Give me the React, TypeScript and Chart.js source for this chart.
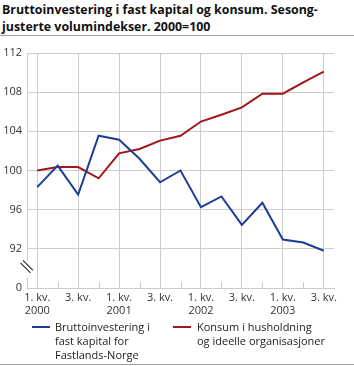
import React, { useEffect, useRef } from "react";
import { Chart, registerables } from "chart.js";

Chart.register(...registerables);

const titleLines = ["Bruttoinvestering i fast kapital og konsum. Sesong-", "justerte volumindekser. 2000=100"];
const categories: (string | string[])[] = [
  ["1. kv.", "2000"], "", "3. kv.", "",
  ["1. kv.", "2001"], "", "3. kv.", "",
  ["1. kv.", "2002"], "", "3. kv.", "",
  ["1. kv.", "2003"], "", "3. kv.",
];
const investering = [98.3, 100.5, 97.55, 103.55, 103.15, 101.2, 98.8, 100.0, 96.25, 97.35, 94.45, 96.7, 92.95, 92.65, 91.8];
const konsum = [100.0, 100.35, 100.35, 99.2, 101.75, 102.2, 103.05, 103.55, 105.0, 105.7, 106.45, 107.85, 107.85, 109.0, 110.1];
const yTicks = [88, 92, 96, 100, 104, 108, 112];
const yTickLabels = ["0", "92", "96", "100", "104", "108", "112"];
const seriesNames = [
  ["Bruttoinvestering i", "fast kapital for", "Fastlands-Norge"],
  ["Konsum i husholdning", "og ideelle organisasjoner"],
];
const BLUE = "#1f3d98";
const RED = "#a3151b";
const FONT = "'Open Sans', sans-serif";

const extrasPlugin = {
  id: "extras",
  afterDraw(chart: any) {
    const ctx = chart.ctx;
    const x = chart.scales.x;
    const y = chart.scales.y;
    const bottom = chart.chartArea.bottom;
    ctx.save();
    ctx.strokeStyle = "#cccccc";
    ctx.lineWidth = 1;
    for (let i = 1; i < categories.length; i += 2) {
      const px = Math.round(x.getPixelForValue(i)) + 0.5;
      ctx.beginPath();
      ctx.moveTo(px, bottom);
      ctx.lineTo(px, bottom - 6);
      ctx.stroke();
    }
    const left = chart.chartArea.left;
    const yb = (y.getPixelForValue(88) + y.getPixelForValue(92)) / 2 + 1;
    ctx.fillStyle = "#ffffff";
    ctx.fillRect(left - 1, yb - 8, 3, 16);
    ctx.strokeStyle = "#333333";
    ctx.lineWidth = 1.2;
    ctx.beginPath();
    ctx.moveTo(left - 6.5, yb - 6.5);
    ctx.lineTo(left + 3.5, yb + 3.5);
    ctx.moveTo(left - 4, yb - 9);
    ctx.lineTo(left + 6, yb + 1);
    ctx.stroke();
    ctx.restore();
  },
};

export default function App() {
  const ref = useRef<HTMLCanvasElement | null>(null);
  useEffect(() => {
    document.body.style.margin = "0";
    const chart = new Chart(ref.current as HTMLCanvasElement, {
      type: "line",
      data: {
        labels: categories as any,
        datasets: [
          { label: seriesNames[0].join(" "), data: investering, borderColor: BLUE, borderWidth: 2, pointRadius: 0, tension: 0 },
          { label: seriesNames[1].join(" "), data: konsum, borderColor: RED, borderWidth: 2, pointRadius: 0, tension: 0 },
        ],
      },
      options: {
        animation: false,
        responsive: false,
        events: [],
        layout: { padding: { top: 15, right: 20, left: 0, bottom: 0 } },
        plugins: { legend: { display: false }, tooltip: { enabled: false } },
        scales: {
          x: {
            type: "category",
            offset: true,
            grid: {
              offset: false,
              drawTicks: false,
              color: (c: any) => (c.index % 2 === 0 ? "#cccccc" : "rgba(0,0,0,0)"),
            },
            border: { color: "#cccccc" },
            ticks: {
              autoSkip: false,
              maxRotation: 0,
              padding: 3,
              color: "#333333",
              font: { family: FONT, size: 11 },
            },
            afterFit: (s: any) => { s.height = 32; },
          },
          y: {
            min: 88,
            max: 112,
            afterBuildTicks: (s: any) => { s.ticks = yTicks.map((v) => ({ value: v })); },
            grid: {
              drawTicks: false,
              color: (c: any) => (c.tick && c.tick.value === 88 ? "rgba(0,0,0,0)" : "#cccccc"),
            },
            border: { color: "#cccccc" },
            ticks: {
              padding: 5,
              color: "#333333",
              font: { family: FONT, size: 11 },
              callback: (v: any) => yTickLabels[yTicks.indexOf(Number(v))] ?? "",
            },
            afterFit: (s: any) => { s.width = 27; },
          },
        },
      },
      plugins: [extrasPlugin],
    });
    return () => chart.destroy();
  }, []);

  const textStyle: React.CSSProperties = { fontFamily: FONT, fontSize: 11, color: "#222", lineHeight: "14px" };
  return (
    <div style={{ position: "absolute", left: 0, top: 0, width: 354, height: 366, background: "#fff", overflow: "hidden" }}>
      <div style={{ position: "absolute", left: 2, top: 1, fontFamily: FONT, fontWeight: 700, fontSize: 12.4, lineHeight: "17px", color: "#111", whiteSpace: "nowrap" }}>
        {titleLines.map((l, i) => <div key={i}>{l}</div>)}
      </div>
      <div style={{ position: "absolute", left: 0, top: 35, width: 354, height: 1, background: "#a0a0a0" }} />
      <canvas ref={ref} width={354} height={282} style={{ position: "absolute", left: 0, top: 38, width: 354, height: 282 }} />
      <div style={{ position: "absolute", left: 32, top: 326, width: 18, height: 2, background: BLUE }} />
      <div style={{ position: "absolute", left: 55, top: 320, whiteSpace: "nowrap", ...textStyle }}>
        {seriesNames[0].map((l, i) => <div key={i}>{l}</div>)}
      </div>
      <div style={{ position: "absolute", left: 173, top: 326, width: 18, height: 2, background: RED }} />
      <div style={{ position: "absolute", left: 197, top: 320, whiteSpace: "nowrap", ...textStyle }}>
        {seriesNames[1].map((l, i) => <div key={i}>{l}</div>)}
      </div>
      <div style={{ position: "absolute", left: 0, top: 364, width: 354, height: 1, background: "#a0a0a0" }} />
    </div>
  );
}
